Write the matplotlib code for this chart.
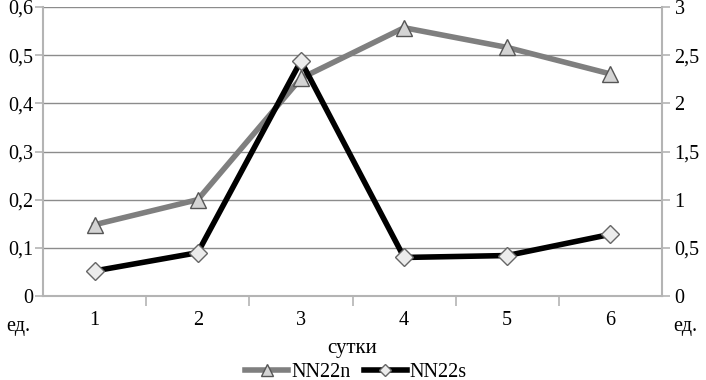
import matplotlib
matplotlib.use("Agg")
import matplotlib.pyplot as plt
from matplotlib.lines import Line2D
import numpy as np

days = [1, 2, 3, 4, 5, 6]
nn22n = [0.148, 0.200, 0.452, 0.557, 0.516, 0.461]
nn22s = [0.26, 0.45, 2.44, 0.40, 0.42, 0.64]
left_ticks = [0, 0.1, 0.2, 0.3, 0.4, 0.5, 0.6]
left_labels = ["0", "0,1", "0,2", "0,3", "0,4", "0,5", "0,6"]
right_ticks = [0, 0.5, 1, 1.5, 2, 2.5, 3]
right_labels = ["0", "0,5", "1", "1,5", "2", "2,5", "3"]

plt.rcParams['font.family'] = ['Liberation Serif', 'DejaVu Serif']
fs = 14.5

fig = plt.figure(figsize=(7.06, 3.8), dpi=100)
ax = fig.add_axes([43/706, 1-296/380, (662-43)/706, (296-7)/380])
ax2 = ax.twinx()

spine_c = '#b4b4b4'
grid_c = '#8c8c8c'

ax.set_xlim(0.5, 6.5)
ax.set_ylim(0, 0.6)
ax2.set_ylim(0, 3)
ax.set_yticks(left_ticks)
ax.set_yticklabels(left_labels, fontsize=fs)
ax2.set_yticks(right_ticks)
ax2.set_yticklabels(right_labels, fontsize=fs)
ax.set_xticks(days)
ax.set_xticklabels([str(d) for d in days], fontsize=fs)
ax.set_xticks(np.arange(1.5, 6.5, 1), minor=True)
ax.tick_params(axis='x', which='major', length=0, pad=11)
ax.tick_params(axis='x', which='minor', length=7, color=spine_c, width=1.2)
ax.tick_params(axis='y', length=6, color=spine_c, width=1.2, pad=1)
ax2.tick_params(axis='y', length=6, color=spine_c, width=1.2, pad=3)

for a in (ax, ax2):
    for s in a.spines.values():
        s.set_visible(False)
ax.spines['left'].set_visible(True)
ax.spines['bottom'].set_visible(True)
ax2.spines['right'].set_visible(True)
for a, k in ((ax, 'left'), (ax, 'bottom'), (ax2, 'right')):
    a.spines[k].set_color(spine_c)
    a.spines[k].set_linewidth(1.5)

ax.yaxis.grid(True, color=grid_c, linewidth=1.0)
ax.set_axisbelow(True)

ax.plot(days, nn22n, color='#7f7f7f', linewidth=4, marker='^', markersize=12,
        markerfacecolor='#d4d4d4', markeredgecolor='#555555', markeredgewidth=1.0,
        zorder=3)
ax2.plot(days, nn22s, color='#000000', linewidth=4, marker='D', markersize=9,
         markerfacecolor='#ececec', markeredgecolor='#666666', markeredgewidth=1.0,
         zorder=4)

fig.text(18/706, 1-327/380, "ед.", fontsize=fs, ha='center', va='center')
fig.text(685/706, 1-327/380, "ед.", fontsize=fs, ha='center', va='center')
fig.text(352/706, 1-348/380, "сутки", fontsize=fs+0.5, ha='center', va='center')

h1 = Line2D([], [], color='#7f7f7f', linewidth=4, marker='^', markersize=8,
            markerfacecolor='#d4d4d4', markeredgecolor='#555555')
h2 = Line2D([], [], color='#000000', linewidth=4, marker='D', markersize=6,
            markerfacecolor='#ececec', markeredgecolor='#666666')
fig.legend([h1, h2], ["NN22n", "NN22s"], loc='center', bbox_to_anchor=(356/706, 1-372/380),
           ncol=2, frameon=False, fontsize=fs, handlelength=2.15, columnspacing=0.65,
           handletextpad=0.15, borderpad=0)

fig.savefig("out.png", dpi=100)
